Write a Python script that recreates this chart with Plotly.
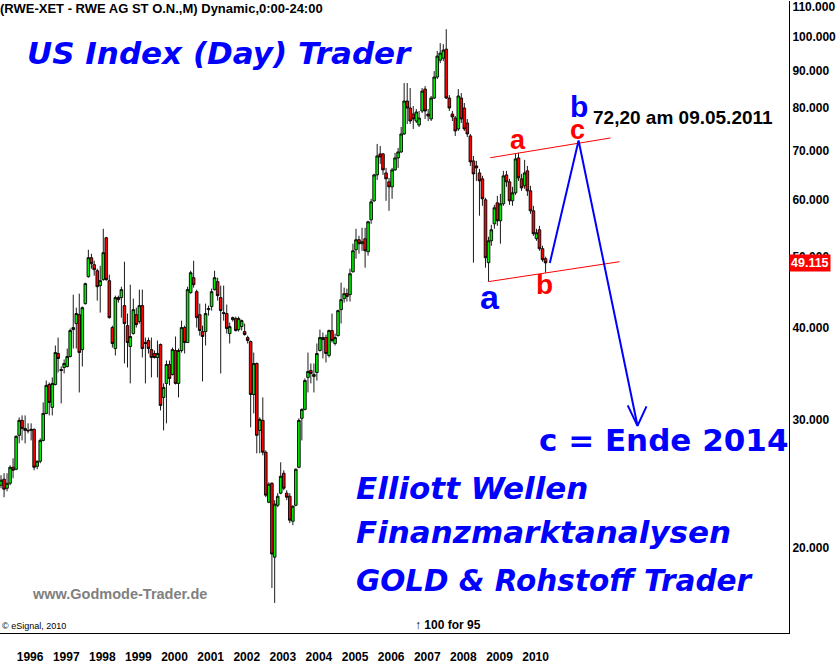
import plotly.graph_objects as go
import pandas as pd
import numpy as np

# ---------------- data (monthly OHLC, RWE AG) ----------------
first_month = "1995-08-01"

open_ = [24.38, 24.85, 24.15, 24.53, 25.80, 25.64, 28.53, 29.91, 29.16, 28.98,
         28.98, 29.07, 25.88, 26.29, 28.08, 30.57, 33.49, 31.16, 33.49, 36.92,
         35.11, 35.33, 35.44, 36.57, 39.81, 40.57, 41.73, 37.38, 43.20, 47.03,
         49.92, 48.84, 47.92, 45.72, 46.59, 53.16, 46.44, 40.06, 37.50, 44.03,
         44.03, 42.93, 40.31, 37.74, 39.31, 41.73, 40.83, 42.93, 38.22, 38.46,
         37.38, 36.92, 36.46, 37.98, 32.15, 33.60, 35.67, 34.56, 37.27, 33.60,
         37.27, 40.06, 38.22, 44.72, 46.88, 44.86, 41.73, 39.56, 39.56, 42.39,
         42.80, 45.15, 46.30, 44.03, 42.00, 41.87, 39.31, 41.08, 41.21, 39.81,
         40.19, 39.56, 38.82, 38.34, 32.45, 35.78, 28.98, 29.91, 27.05, 23.11,
         24.53, 19.44, 22.89, 23.78, 25.32, 23.78, 23.55, 21.77, 22.89, 25.80,
         30.10, 30.96, 34.24, 35.00, 34.35, 34.78, 37.27, 38.82, 38.82, 36.69,
         39.69, 38.10, 39.06, 42.39, 43.89, 44.58, 44.44, 47.77, 51.19, 52.83,
         52.17, 53.00, 50.87, 56.26, 59.72, 64.80, 69.23, 69.23, 65.21, 63.40,
         62.41, 65.83, 68.36, 69.66, 73.72, 81.78, 80.00, 78.50, 76.79, 75.83,
         79.25, 84.92, 78.50, 77.28, 82.55, 88.19, 93.02, 93.60, 96.30, 82.55,
         78.50, 77.52, 74.89, 82.55, 80.00, 76.31, 73.26, 67.72, 66.66, 65.21,
         64.00, 59.91, 49.15, 52.66, 55.55, 59.34, 56.08, 59.16, 64.80, 63.40,
         59.72, 61.24, 68.36, 64.00, 62.61, 65.63, 61.63, 57.87, 53.00, 54.52,
         51.36, 49.77]

high = [25.16, 25.32, 25.32, 25.96, 26.54, 28.53, 30.19, 30.38, 30.38, 29.63,
        29.63, 29.16, 26.37, 28.26, 31.65, 33.91, 33.70, 34.24, 37.86, 38.82,
        35.44, 36.23, 37.50, 39.94, 44.44, 42.66, 44.58, 42.80, 46.15, 51.19,
        50.56, 49.45, 48.23, 48.68, 54.69, 53.33, 47.33, 40.31, 44.30, 44.30,
        45.57, 49.30, 41.87, 45.86, 43.89, 42.66, 45.15, 45.15, 38.82, 38.82,
        38.82, 37.27, 38.46, 38.10, 33.60, 36.11, 36.11, 37.62, 38.95, 37.50,
        40.95, 40.31, 45.57, 47.92, 49.45, 45.15, 43.20, 40.31, 43.20, 42.93,
        45.29, 47.92, 46.88, 45.72, 45.72, 43.07, 40.70, 41.47, 41.47, 41.47,
        41.08, 40.57, 39.06, 38.46, 37.03, 35.89, 30.19, 32.15, 27.21, 24.61,
        24.61, 23.26, 23.78, 26.21, 25.56, 24.00, 23.78, 22.89, 25.72, 30.10,
        31.06, 34.13, 37.03, 35.78, 35.78, 38.10, 39.81, 39.44, 39.19, 39.81,
        41.87, 39.31, 42.39, 46.15, 45.43, 45.29, 48.23, 52.17, 54.69, 53.49,
        54.86, 54.86, 56.08, 60.10, 65.01, 71.44, 70.99, 69.45, 66.25, 64.20,
        66.25, 69.45, 70.55, 75.36, 86.54, 86.54, 85.19, 80.50, 79.75, 79.25,
        85.19, 85.72, 79.75, 83.08, 89.86, 95.73, 98.13, 97.82, 102.55, 83.33,
        79.25, 78.01, 84.92, 83.86, 81.27, 77.28, 73.72, 68.79, 67.72, 66.04,
        64.60, 60.29, 53.33, 55.38, 58.97, 60.66, 61.05, 65.63, 65.63, 64.00,
        62.41, 69.23, 69.45, 65.01, 67.94, 66.66, 62.61, 58.79, 54.69, 55.20,
        51.84, 50.08]

low = [24.15, 23.48, 23.92, 24.38, 24.92, 25.56, 27.82, 28.08, 27.82, 28.71,
       28.08, 25.56, 25.64, 26.13, 27.99, 30.48, 30.38, 30.38, 33.39, 34.78,
       31.55, 34.67, 35.33, 36.46, 37.50, 37.50, 32.66, 35.44, 43.07, 46.88,
       48.23, 47.18, 43.61, 42.00, 46.44, 46.44, 41.21, 37.62, 36.69, 43.34,
       41.34, 35.78, 35.33, 33.60, 39.19, 40.06, 40.57, 36.46, 33.60, 36.92,
       34.24, 36.34, 34.24, 30.86, 28.98, 29.63, 33.39, 34.45, 33.49, 32.15,
       37.03, 36.92, 38.22, 44.58, 45.43, 40.06, 39.06, 33.81, 37.86, 41.60,
       42.26, 45.01, 43.61, 34.67, 40.95, 39.31, 38.10, 40.83, 39.56, 39.56,
       39.69, 39.06, 38.10, 29.26, 30.57, 26.96, 26.96, 26.79, 23.48, 23.04,
       17.64, 16.83, 22.75, 23.70, 24.00, 23.26, 21.64, 21.50, 22.82, 25.72,
       28.08, 30.86, 32.66, 33.60, 32.66, 33.91, 37.15, 36.34, 35.89, 36.46,
       38.22, 37.86, 38.95, 40.57, 43.34, 43.48, 43.48, 47.62, 49.77, 50.56,
       51.03, 48.38, 50.24, 55.55, 59.53, 63.79, 67.09, 64.80, 59.72, 57.87,
       60.10, 65.63, 66.25, 69.45, 73.49, 76.07, 76.07, 74.89, 76.31, 75.36,
       78.75, 77.28, 76.79, 76.79, 82.29, 87.63, 92.15, 92.74, 82.29, 79.25,
       76.79, 73.26, 74.42, 76.31, 74.42, 73.03, 66.66, 49.15, 63.59, 56.98,
       58.79, 48.38, 46.30, 51.84, 54.69, 55.20, 52.17, 58.79, 62.41, 58.97,
       58.79, 60.86, 63.59, 61.63, 62.02, 60.66, 57.33, 53.49, 52.66, 51.03,
       49.30, 47.62]

close = [24.77, 24.08, 24.53, 25.80, 25.56, 28.44, 29.91, 29.16, 28.98, 28.94,
         29.07, 25.80, 26.29, 28.08, 30.57, 33.39, 31.65, 33.60, 37.03, 36.34,
         35.00, 35.78, 36.57, 39.69, 40.06, 41.87, 37.03, 42.66, 46.01, 49.92,
         48.99, 48.08, 45.57, 46.44, 50.72, 46.59, 41.34, 38.10, 44.03, 43.75,
         45.15, 40.57, 38.22, 38.95, 42.39, 40.44, 42.93, 37.50, 38.10, 37.50,
         36.46, 36.46, 36.92, 31.35, 33.18, 35.67, 34.13, 37.38, 33.60, 37.27,
         40.06, 38.22, 45.15, 47.62, 45.86, 41.34, 39.69, 38.95, 41.87, 42.53,
         44.86, 46.88, 44.30, 42.26, 41.87, 39.94, 40.19, 41.34, 39.69, 41.21,
         40.95, 39.19, 38.46, 32.45, 35.78, 28.53, 30.00, 27.05, 23.63, 24.46,
         19.63, 22.97, 23.55, 25.08, 24.15, 23.48, 21.84, 22.82, 25.64, 29.91,
         30.96, 33.91, 34.89, 34.67, 34.56, 36.92, 38.82, 38.58, 36.92, 39.69,
         38.46, 38.82, 42.26, 43.75, 44.58, 44.17, 47.47, 51.03, 52.83, 52.17,
         52.50, 51.03, 55.91, 59.53, 64.80, 68.79, 68.58, 65.83, 64.00, 62.41,
         65.83, 68.36, 69.66, 73.72, 81.78, 80.00, 76.79, 77.28, 79.00, 77.52,
         84.39, 79.25, 78.01, 82.55, 88.19, 94.20, 95.10, 96.00, 82.55, 80.00,
         77.77, 74.42, 83.08, 77.28, 74.89, 73.72, 67.51, 65.01, 66.25, 63.59,
         60.10, 49.92, 52.66, 54.52, 58.42, 56.08, 59.16, 64.60, 63.40, 59.72,
         61.24, 68.15, 64.20, 62.21, 65.21, 61.63, 57.87, 53.84, 54.01, 51.36,
         49.61, 49.115]

last_price = 49.115

# Elliott-wave drawing (channel lines and projected path)
upper_channel_x = ["2009-02-18", "2012-06-19"]
upper_channel_y = [68.4, 72.8]
lower_channel_x = ["2009-02-01", "2012-09-19"]
lower_channel_y = [46.3, 49.3]
projection_x = ["2010-10-14", "2011-08-01", "2013-03-19"]
projection_y = [49.1, 72.2, 29.4]
arrow_x = ["2012-12-10", "2013-03-19", "2013-06-18"]
arrow_y = [31.35, 29.4, 31.25]

# axis ticks
year_labels = ["1996", "1997", "1998", "1999", "2000", "2001", "2002", "2003",
               "2004", "2005", "2006", "2007", "2008", "2009", "2010"]
price_ticks = [20, 30, 40, 50, 60, 70, 80, 90, 100, 110]
price_tick_labels = ["20.000", "30.000", "40.000", "50.000", "60.000",
                     "70.000", "80.000", "90.000", "100.000", "110.000"]

# ---------------- figure ----------------
months = pd.date_range(first_month, periods=len(close), freq="MS")
year_ticks = [pd.Timestamp(f"{y}-01-01") for y in year_labels]

W, H = 836, 664
ML, MR, MT, MB = 0, 44, 0, 31
PW, PH = W - ML - MR, H - MT - MB

px_per_day = 3.02 / 30.44
x0 = months[0] - pd.Timedelta(days=1.0 / px_per_day)
x1 = x0 + pd.Timedelta(days=PW / px_per_day)

fig = go.Figure()
fig.add_trace(go.Candlestick(
    x=months, open=open_, high=high, low=low, close=close,
    increasing=dict(fillcolor="#00ee00", line=dict(color="black", width=0.9)),
    decreasing=dict(fillcolor="#ff0000", line=dict(color="black", width=0.9)),
    whiskerwidth=0, hoverinfo="skip", showlegend=False,
))

fig.add_trace(go.Scatter(x=upper_channel_x, y=upper_channel_y, mode="lines",
                         line=dict(color="#ff0000", width=1), hoverinfo="skip"))
fig.add_trace(go.Scatter(x=lower_channel_x, y=lower_channel_y, mode="lines",
                         line=dict(color="#ff0000", width=1), hoverinfo="skip"))
fig.add_trace(go.Scatter(x=projection_x, y=projection_y, mode="lines",
                         line=dict(color="#0000ff", width=2), hoverinfo="skip"))
fig.add_trace(go.Scatter(x=arrow_x, y=arrow_y, mode="lines",
                         line=dict(color="#0000ff", width=2), hoverinfo="skip"))


def px(x):
    return x / PW


def py(y):
    return 1 - y / PH


annotations = []


def txt(text, x, y, size, color="black", family="Liberation Sans", bold=True,
        italic=False, xanchor="left"):
    annotations.append(dict(
        text=text, xref="paper", yref="paper", x=px(x), y=py(y),
        xanchor=xanchor, yanchor="middle", showarrow=False,
        font=dict(family=family, size=size, color=color,
                  weight="bold" if bold else "normal",
                  style="italic" if italic else "normal"),
    ))


txt("(RWE-XET - RWE AG ST O.N.,M) Dynamic,0:00-24:00", -2, 8, 13)
txt("US Index (Day) Trader", 25, 52, 31, "#0000ff", "DejaVu Sans", italic=True)
txt("Elliott Wellen", 355, 488, 31, "#0000ff", "DejaVu Sans", italic=True)
txt("Finanzmarktanalysen", 355, 532, 31, "#0000ff", "DejaVu Sans", italic=True)
txt("GOLD &amp; Rohstoff Trader", 355, 581, 29.5, "#0000ff", "DejaVu Sans", italic=True)
txt("c = Ende 2014", 539, 440, 31, "#0000ff", "DejaVu Sans")
txt("72,20 am 09.05.2011", 593, 117, 19)
txt("b", 581, 106, 30, "#0000ff", xanchor="center")
txt("c", 580, 129, 27, "#ff0000", xanchor="center")
txt("a", 520, 139, 27, "#ff0000", xanchor="center")
txt("a", 492, 296, 34, "#0000ff", xanchor="center")
txt("b", 547, 284, 28, "#ff0000", xanchor="center")
txt("www.Godmode-Trader.de", 30, 594, 14.5, "#808080")
txt("© eSignal, 2010", 0, 626, 9, bold=False)
txt("↑ 100 for 95", 415, 625, 12)

annotations.append(dict(
    text="49.115", xref="paper", yref="y", x=1.0, y=np.log10(last_price),
    xanchor="left", yanchor="middle", showarrow=False,
    bgcolor="#ff0000", borderpad=1,
    font=dict(family="Liberation Sans", size=12.5, color="white", weight="bold"),
))

fig.update_layout(
    width=W, height=H,
    margin=dict(l=ML, r=MR, t=MT, b=MB),
    paper_bgcolor="white", plot_bgcolor="white",
    showlegend=False,
    boxgap=0.06, boxgroupgap=0,
    annotations=annotations,
    xaxis=dict(
        type="date", range=[x0, x1], rangeslider=dict(visible=False),
        showgrid=False, zeroline=False, showline=True, linecolor="black",
        linewidth=1, tickvals=year_ticks, ticktext=year_labels, ticks="",
        tickfont=dict(family="Liberation Sans", size=12, color="black", weight="bold"),
        ticklabelstandoff=13, ticklabelshift=14,
    ),
    yaxis=dict(
        type="log", side="right", range=[1.18494, 2.04946],
        showgrid=False, zeroline=False, showline=True, linecolor="black",
        linewidth=1, tickvals=price_ticks, ticktext=price_tick_labels, ticks="",
        tickfont=dict(family="Liberation Sans", size=12, color="black", weight="bold"),
        ticklabeloverflow="allow",
    ),
)

fig.write_html("out.html", config={"displayModeBar": False},
               post_script="document.body.style.margin='0px';")
